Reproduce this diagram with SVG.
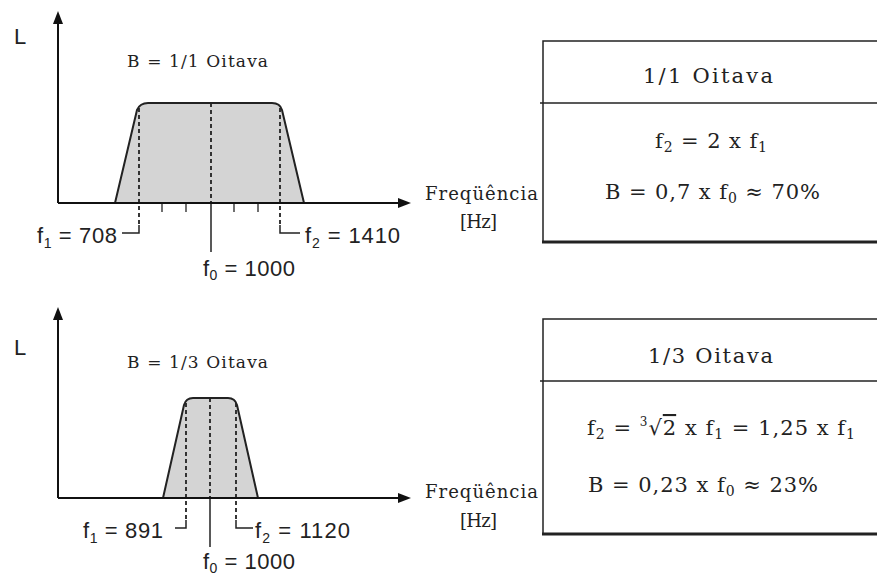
<svg xmlns="http://www.w3.org/2000/svg" width="877" height="578" viewBox="0 0 877 578">
<defs>
<style>
.ax{stroke:#111;stroke-width:2;fill:none}
.ah{fill:#111}
.band{fill:#d4d4d4;stroke:none}
.edge{stroke:#222;stroke-width:2;fill:none;stroke-linejoin:round}
.dash{stroke:#222;stroke-width:1.8;stroke-dasharray:4,3;fill:none}
.lead{stroke:#222;stroke-width:1.5;fill:none}
.tick{stroke:#222;stroke-width:1.3}
.sans{font-family:"Liberation Sans",Arial,sans-serif;font-size:22px;fill:#222}
.ser{font-family:"DejaVu Serif","Liberation Serif",serif;fill:#222}
.box{stroke:#222;stroke-width:1.5;fill:#fff}
.boxb{stroke:#222;stroke-width:3}
</style>
</defs>

<g id="graph-octave">
<path class="band" d="M115,203 L137,110 Q140,103 148,103 L272,103 Q280,103 282,110 L304,203 Z"/>
<path class="edge" d="M115,203 L137,110 Q140,103 148,103 L272,103 Q280,103 282,110 L304,203"/>
<line class="dash" x1="139" y1="108" x2="139" y2="226"/>
<line class="dash" x1="211" y1="103" x2="211" y2="203"/>
<line class="dash" x1="280" y1="108" x2="280" y2="226"/>
<path class="lead" d="M139,225 V233 H122"/>
<path class="lead" d="M280,225 V233 H300"/>
<line class="lead" x1="211" y1="203" x2="211" y2="252"/>
<line class="tick" x1="162" y1="203" x2="162" y2="212"/>
<line class="tick" x1="186" y1="203" x2="186" y2="212"/>
<line class="tick" x1="234" y1="203" x2="234" y2="212"/>
<line class="tick" x1="258" y1="203" x2="258" y2="212"/>
<path class="ax" d="M58,203 V20 M58,203 H400"/>
<path class="ah" d="M58,11 L53,24 L63,24 Z"/>
<path class="ah" d="M411,203 L398,198 L398,208 Z"/>
<text class="sans" x="14" y="44" font-size="24">L</text>
<text class="ser" x="127" y="67" font-size="17" textLength="141" lengthAdjust="spacing">B = 1/1 Oitava</text>
<text class="sans" x="37" y="243" textLength="80" lengthAdjust="spacing">f<tspan font-size="14" dy="5">1</tspan><tspan dy="-5"> = 708</tspan></text>
<text class="sans" x="305" y="243" textLength="95" lengthAdjust="spacing">f<tspan font-size="14" dy="5">2</tspan><tspan dy="-5"> = 1410</tspan></text>
<text class="sans" x="203" y="276" textLength="92" lengthAdjust="spacing">f<tspan font-size="14" dy="4">0</tspan><tspan dy="-4"> = 1000</tspan></text>
<text class="ser" x="425" y="200" font-size="18" textLength="113" lengthAdjust="spacing">Freqüência</text>
<text class="ser" x="460" y="228" font-size="18" textLength="37" lengthAdjust="spacing">[Hz]</text>
</g>

<g id="table-octave">
<path class="box" d="M880,41 H543 V242 H880"/>
<line class="boxb" x1="542" y1="242" x2="880" y2="242"/>
<line class="lead" x1="540" y1="103" x2="880" y2="103"/>
<text class="ser" x="643" y="83" font-size="21" textLength="130" lengthAdjust="spacing">1/1 Oitava</text>
<text class="ser" x="655" y="148" font-size="21" textLength="112" lengthAdjust="spacing">f<tspan font-size="14" dy="4">2</tspan><tspan dy="-4"> = 2 x f</tspan><tspan font-size="14" dy="4">1</tspan></text>
<text class="ser" x="605" y="199" font-size="21" textLength="215" lengthAdjust="spacing">B = 0,7 x f<tspan font-size="14" dy="4">0</tspan><tspan dy="-4"> ≈ 70%</tspan></text>
</g>

<g id="graph-third">
<path class="band" d="M163,498 L184,405 Q186,398 193,398 L228,398 Q235,398 237,405 L258,498 Z"/>
<path class="edge" d="M163,498 L184,405 Q186,398 193,398 L228,398 Q235,398 237,405 L258,498"/>
<line class="dash" x1="186" y1="403" x2="186" y2="521"/>
<line class="dash" x1="210" y1="398" x2="210" y2="498"/>
<line class="dash" x1="236" y1="403" x2="236" y2="521"/>
<path class="lead" d="M186,520 V528 H175"/>
<path class="lead" d="M236,520 V528 H253"/>
<line class="lead" x1="210" y1="498" x2="210" y2="547"/>
<path class="ax" d="M58,498 V316 M58,498 H400"/>
<path class="ah" d="M58,307 L53,320 L63,320 Z"/>
<path class="ah" d="M411,498 L398,493 L398,503 Z"/>
<text class="sans" x="14" y="355" font-size="24">L</text>
<text class="ser" x="127" y="368" font-size="17" textLength="141" lengthAdjust="spacing">B = 1/3 Oitava</text>
<text class="sans" x="83" y="538" textLength="80" lengthAdjust="spacing">f<tspan font-size="14" dy="5">1</tspan><tspan dy="-5"> = 891</tspan></text>
<text class="sans" x="255" y="538" textLength="95" lengthAdjust="spacing">f<tspan font-size="14" dy="5">2</tspan><tspan dy="-5"> = 1120</tspan></text>
<text class="sans" x="203" y="569" textLength="92" lengthAdjust="spacing">f<tspan font-size="14" dy="4">0</tspan><tspan dy="-4"> = 1000</tspan></text>
<text class="ser" x="425" y="498" font-size="18" textLength="113" lengthAdjust="spacing">Freqüência</text>
<text class="ser" x="460" y="527" font-size="18" textLength="37" lengthAdjust="spacing">[Hz]</text>
</g>

<g id="table-third">
<path class="box" d="M880,319 H543 V534 H880"/>
<line class="boxb" x1="542" y1="534" x2="880" y2="534"/>
<line class="lead" x1="540" y1="381" x2="880" y2="381"/>
<text class="ser" x="648" y="363" font-size="21" textLength="125" lengthAdjust="spacing">1/3 Oitava</text>
<text class="ser" x="587" y="435" font-size="21" textLength="268" lengthAdjust="spacing">f<tspan font-size="14" dy="4">2</tspan><tspan dy="-4"> = </tspan><tspan font-size="12" dy="-9">3</tspan><tspan dy="9">√</tspan><tspan text-decoration="overline">2</tspan><tspan>  x f</tspan><tspan font-size="14" dy="4">1</tspan><tspan dy="-4"> = 1,25 x f</tspan><tspan font-size="14" dy="4">1</tspan></text>
<text class="ser" x="588" y="492" font-size="21" textLength="230" lengthAdjust="spacing">B = 0,23 x f<tspan font-size="14" dy="4">0</tspan><tspan dy="-4"> ≈ 23%</tspan></text>
</g>
</svg>
